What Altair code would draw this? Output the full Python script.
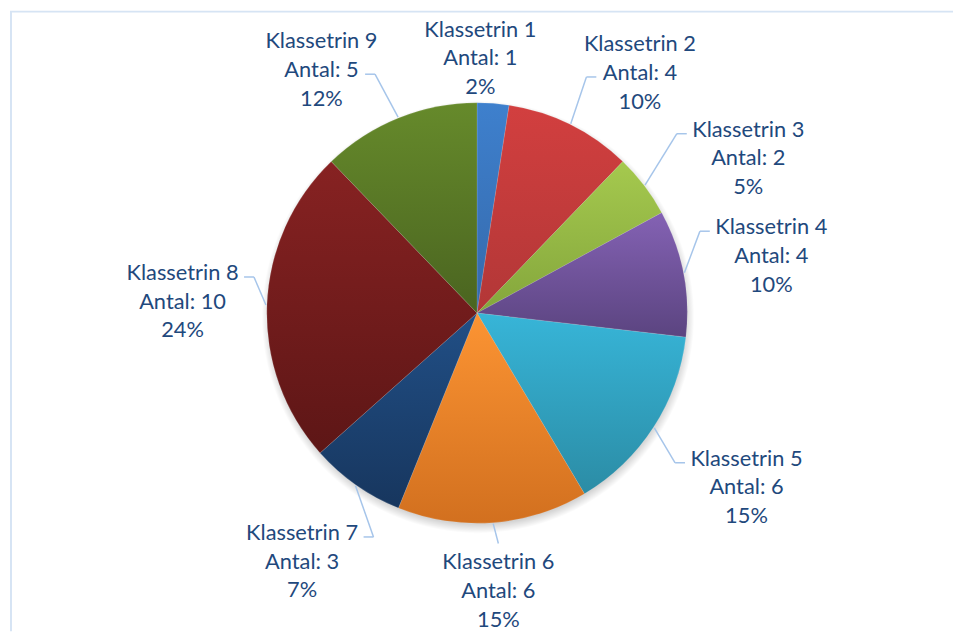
import math
import altair as alt
import pandas as pd

# ---- data ----
categories = ["Klassetrin 1", "Klassetrin 2", "Klassetrin 3", "Klassetrin 4", "Klassetrin 5",
              "Klassetrin 6", "Klassetrin 7", "Klassetrin 8", "Klassetrin 9"]
counts = [1, 4, 2, 4, 6, 6, 3, 10, 5]

# ---- style ----
top_colors = ["#3E80CD", "#D23F3F", "#A5C94E", "#8462B4", "#37B5D8",
              "#FC9433", "#214F86", "#872222", "#668A2B"]
bottom_colors = ["#3569AB", "#B23737", "#84A63C", "#5B4480", "#2B8CA5",
                 "#D2701F", "#17365E", "#5D1616", "#4A6420"]

W, H = 953, 626
CX, CY = 473, 305
R = 212
LINE_H = 29
BOX_W, BOX_H = 60, 44   # half width / half height of a label block
TEXT_COLOR = "#1F497D"
LEADER_COLOR = "#A6C5EA"
FRAME_COLOR = "#D6E4F4"

total = sum(counts)
ends = pd.Series(counts).cumsum()
df = pd.DataFrame({"cat": categories, "count": counts, "end": ends,
                   "start": ends - pd.Series(counts)})
df["mid"] = (df["start"] + df["end"]) / 2
df["label"] = [f"{c}\nAntal: {n}\n{round(n / total * 100)}%" for c, n in zip(categories, counts)]


# ---- label layout (outside labels, spread apart when they collide) ----
def place(a):
    s, c = math.sin(a), math.cos(a)
    dist = min(BOX_W / max(abs(s), 1e-6), BOX_H / max(abs(c), 1e-6))
    if c > 0:
        gap = 24 * abs(s) + 30 * abs(s * c)
    else:
        gap = 22 + 40 * abs(s * c)
    r = R + gap + dist
    return r, CX + r * s, CY - r * c


angles = [m / total * 2 * math.pi for m in df["mid"]]
n = len(angles)
for _ in range(2000):
    moved = False
    for i in range(n):
        j = (i + 1) % n
        _, xi, yi = place(angles[i])
        _, xj, yj = place(angles[j])
        if abs(xi - xj) < 2 * BOX_W + 40 and abs(yi - yj) < 2 * BOX_H - 2:
            wi = counts[i] / (counts[i] + counts[j])
            angles[i] -= 0.004 * wi
            angles[j] += 0.004 * (1 - wi)
            moved = True
    if not moved:
        break

lab_theta, lab_r, lead = [], [], []
for a, m in zip(angles, df["mid"]):
    r, lx, ly = place(a)
    lab_theta.append(a / (2 * math.pi) * total)
    lab_r.append(r)
    am = m / total * 2 * math.pi
    px, py = CX + (R + 1) * math.sin(am), CY - (R + 1) * math.cos(am)
    s, c = math.sin(a), math.cos(a)
    side = 1 if s > 0 else -1
    if abs(s) < 0.35:
        ex = lx
        ey = ly - BOX_H - 4 if c < 0 else ly + BOX_H + 4
        kx, ky = ex, ey
    elif c > 0.8:
        ex, ey = lx - side * 44, ly + 4
        kx, ky = ex - side * 10, ey
    else:
        ex, ey = lx - side * (BOX_W + 2), ly - LINE_H + 4
        kx, ky = ex - side * 10, ey
    show = math.hypot(ex - px, ey - py) > 20
    lead.append((px, py, kx, ky, ex, ey, show))

df["lab_t"] = lab_theta
df["lab_r"] = lab_r
lead_df = pd.DataFrame(lead, columns=["px", "py", "kx", "ky", "ex", "ey", "show"])
lead_df = lead_df[lead_df["show"]]

theta_scale = alt.Scale(domain=[0, total], nice=False, zero=True)

layers = []

# soft shadow under the pie
shadow = alt.Chart(pd.DataFrame({"a": [0], "b": [total]})).mark_arc(
    radius=R + 6,
    fill=alt.RadialGradient(
        gradient="radial", x1=0.5, y1=0.5, x2=0.5, y2=0.5, r1=0, r2=0.5,
        stops=[
            alt.GradientStop(offset=0, color="rgba(0,0,0,0.30)"),
            alt.GradientStop(offset=0.95, color="rgba(0,0,0,0.20)"),
            alt.GradientStop(offset=1, color="rgba(0,0,0,0)"),
        ],
    ),
).encode(theta=alt.Theta("a:Q", scale=theta_scale), theta2="b:Q",
         x=alt.value(CX + 1), y=alt.value(CY + 4))
layers.append(shadow)

for cat, tc, bc in zip(categories, top_colors, bottom_colors):
    grad = alt.LinearGradient(
        gradient="linear", x1=0, y1=0, x2=0, y2=1,
        stops=[alt.GradientStop(offset=0, color=tc), alt.GradientStop(offset=1, color=bc)],
    )
    layers.append(
        alt.Chart(df).transform_filter(alt.datum.cat == cat).mark_arc(
            radius=R, fill=grad, stroke="rgba(255,255,255,0.25)", strokeWidth=0.5
        ).encode(theta=alt.Theta("start:Q", scale=theta_scale), theta2="end:Q",
                 x=alt.value(CX), y=alt.value(CY))
    )

lead_base = alt.Chart(lead_df)
layers.append(lead_base.mark_rule(color=LEADER_COLOR, strokeWidth=1.5).encode(
    x=alt.X("px:Q", scale=None), y=alt.Y("py:Q", scale=None),
    x2="kx:Q", y2="ky:Q"))
layers.append(lead_base.mark_rule(color=LEADER_COLOR, strokeWidth=1.5).encode(
    x=alt.X("kx:Q", scale=None), y=alt.Y("ky:Q", scale=None),
    x2="ex:Q", y2="ey:Q"))

labels = alt.Chart(df).mark_text(
    font="Lato", fontSize=22, color=TEXT_COLOR, lineBreak="\n", lineHeight=LINE_H,
    align="center", baseline="middle", dy=-LINE_H,
).encode(
    theta=alt.Theta("lab_t:Q", scale=theta_scale),
    radius=alt.Radius("lab_r:Q", scale=None),
    text="label:N",
    x=alt.value(CX), y=alt.value(CY),
)
layers.append(labels)

frame_top = alt.Chart(pd.DataFrame({"a": [0]})).mark_rule(color=FRAME_COLOR, strokeWidth=2).encode(
    x=alt.value(2), x2=alt.value(W), y=alt.value(1))
frame_left = alt.Chart(pd.DataFrame({"a": [0]})).mark_rule(color=FRAME_COLOR, strokeWidth=2).encode(
    x=alt.value(3), y=alt.value(1), y2=alt.value(H))
layers += [frame_top, frame_left]

chart = alt.layer(*layers).properties(
    width=W, height=H, padding=0, background="white",
    autosize=alt.AutoSizeParams(type="none"),
).configure_view(strokeWidth=0)

chart.save("out.html", embed_options={"renderer": "svg", "actions": False})
